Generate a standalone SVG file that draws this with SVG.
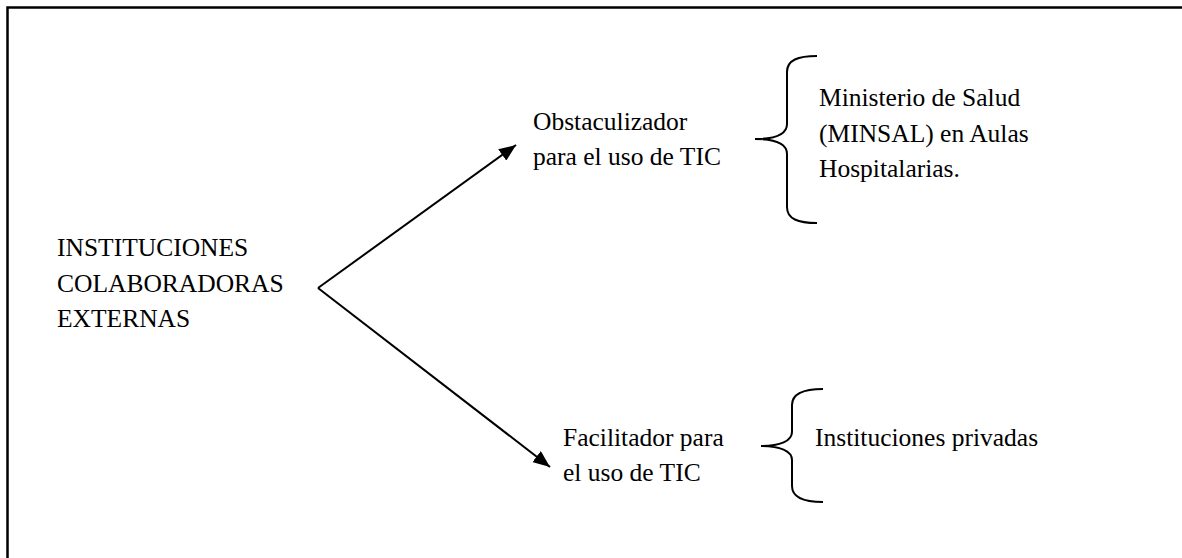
<svg xmlns="http://www.w3.org/2000/svg" width="1182" height="558" viewBox="0 0 1182 558">
<style>
text{font-family:"Liberation Serif","Times New Roman",serif;font-size:25.5px;fill:#000}
.ln{stroke:#000;stroke-width:2;fill:none}
.br{stroke:#000;stroke-width:2;fill:none}
</style>
<defs>
<marker id="ah" markerUnits="userSpaceOnUse" markerWidth="18" markerHeight="14" refX="17" refY="7" orient="auto">
<path d="M0,0 L17,7 L0,14 z" fill="#000"/>
</marker>
</defs>
<rect x="0" y="0" width="1182" height="558" fill="#fff"/>
<path id="frame" d="M7.5,560 V7.5 H1184" stroke="#000" stroke-width="2.5" fill="none"/>
<g id="connectors">
<line class="ln" x1="318" y1="288" x2="516" y2="145" marker-end="url(#ah)"/>
<line class="ln" x1="318" y1="288" x2="550" y2="467" marker-end="url(#ah)"/>
<path id="brace1" class="br" d="M817,56 C798,56 787,60 787,72 V124 C787,134 775,139 755,139 C775,139 787,144 787,154 V207 C787,219 798,223 817,223"/>
<path id="brace2" class="br" d="M823,389 C804,389 792,393 792,405 V432 C792,441 780,446 761,446 C780,446 792,451 792,460 V486 C792,498 804,502 823,502"/>
</g>
<g id="root">
<text x="57" y="256">INSTITUCIONES</text>
<text x="57" y="292">COLABORADORAS</text>
<text x="57" y="327">EXTERNAS</text>
</g>
<g id="obstaculizador">
<text x="533" y="130">Obstaculizador</text>
<text x="533" y="165">para el uso de TIC</text>
</g>
<g id="facilitador">
<text x="563" y="446">Facilitador para</text>
<text x="563" y="481">el uso de TIC</text>
</g>
<g id="minsal">
<text x="819" y="106">Ministerio de Salud</text>
<text x="819" y="142">(MINSAL) en Aulas</text>
<text x="819" y="177">Hospitalarias.</text>
</g>
<g id="privadas">
<text x="815" y="446">Instituciones privadas</text>
</g>
</svg>
